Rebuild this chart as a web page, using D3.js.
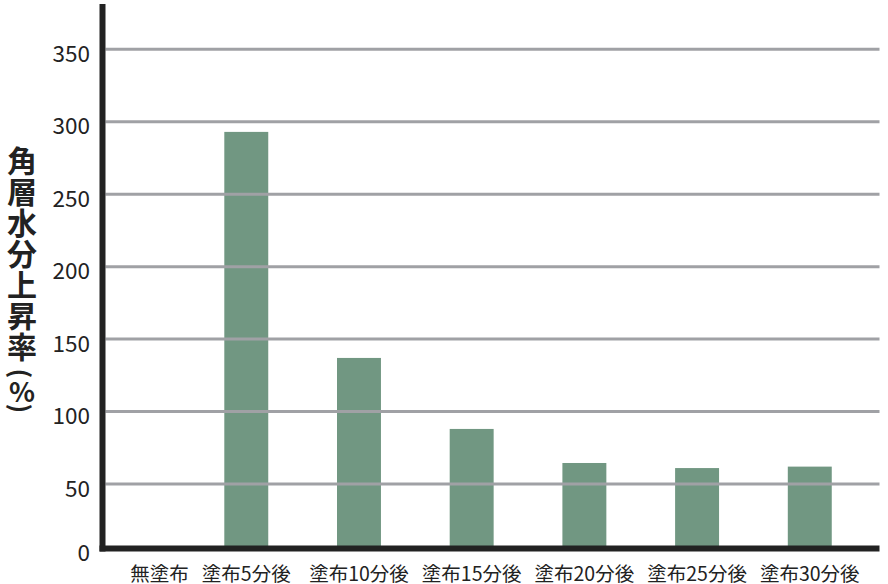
<!DOCTYPE html>
<html>
<head>
<meta charset="utf-8">
<script src="https://cdn.jsdelivr.net/npm/d3@7/dist/d3.min.js"></script>
<style>
  html, body { margin: 0; padding: 0; background: #fff; }
  svg { display: block; }
  text { font-family: "Noto Sans CJK JP", "Noto Sans", sans-serif; }
</style>
</head>
<body>
<svg id="chart" width="888" height="584"></svg>
<script>
// ---- data ----
const categories = ["無塗布", "塗布5分後", "塗布10分後", "塗布15分後", "塗布20分後", "塗布25分後", "塗布30分後"];
const values = [0, 293, 137, 88, 64.5, 61, 62];
const yTicks = [0, 50, 100, 150, 200, 250, 300, 350];
const yTitle = "角層水分上昇率";
const yTitleUnit = ["(", "%", ")"];

// ---- layout ----
const axisX = 102.5;       // y-axis line centre
const baseY = 548.5;       // x-axis line centre
const plotRight = 879.5;
const barColor = "#719782";
const gridColor = "#a0a1a5";
const axisColor = "#222222";

const svg = d3.select("#chart");

const y = d3.scaleLinear().domain([0, 350]).range([556.45, 49.3]);
const step = 112.7;
const padInner = 0.61;
const x = d3.scaleBand()
  .domain(categories)
  .range([111.6, 111.6 + step * (categories.length - padInner)])
  .paddingInner(padInner)
  .paddingOuter(0);

// bars
svg.append("g").selectAll("rect")
  .data(categories.map((c, i) => ({ c, v: values[i] })))
  .join("rect")
  .attr("x", d => x(d.c))
  .attr("width", x.bandwidth())
  .attr("y", d => Math.min(y(d.v), baseY))
  .attr("height", d => Math.max(0, baseY - y(d.v)))
  .attr("fill", barColor);

// gridlines (drawn over bars)
svg.append("g").selectAll("line")
  .data(yTicks.filter(t => t > 0))
  .join("line")
  .attr("x1", axisX + 3)
  .attr("x2", plotRight)
  .attr("y1", d => y(d))
  .attr("y2", d => y(d))
  .attr("stroke", gridColor)
  .attr("stroke-width", 3);

// axes lines
svg.append("line")
  .attr("x1", axisX).attr("x2", axisX)
  .attr("y1", 4).attr("y2", baseY + 3)
  .attr("stroke", axisColor).attr("stroke-width", 6);
svg.append("line")
  .attr("x1", axisX - 3).attr("x2", plotRight)
  .attr("y1", baseY).attr("y2", baseY)
  .attr("stroke", axisColor).attr("stroke-width", 6);

// y tick labels
svg.append("g").selectAll("text")
  .data(yTicks)
  .join("text")
  .attr("x", 90)
  .attr("y", d => (d === 0 ? baseY : y(d)) + 2.5)
  .attr("text-anchor", "end")
  .attr("dominant-baseline", "central")
  .attr("font-size", 22.5)
  .attr("font-weight", 400)
  .attr("fill", axisColor)
  .text(d => d);

// x labels
svg.append("g").selectAll("text")
  .data(categories)
  .join("text")
  .attr("x", (d, i) => x(d) + x.bandwidth() / 2 + (i === 0 ? 26 : 0))
  .attr("y", 572)
  .attr("text-anchor", "middle")
  .attr("dominant-baseline", "central")
  .attr("font-size", 19.5)
  .attr("font-weight", 400)
  .attr("fill", axisColor)
  .text(d => d);

// y title (vertical)
const tg = svg.append("g").attr("fill", axisColor).attr("font-weight", 700);
tg.append("text")
  .attr("x", 22)
  .attr("y", 146)
  .attr("writing-mode", "vertical-rl")
  .attr("letter-spacing", 1)
  .attr("font-size", 30)
  .text(yTitle);
// unit: rotated parens + upright percent
const unitY = [373.5, 390, 408.5];
yTitleUnit.forEach((ch, i) => {
  const t = tg.append("text")
    .attr("text-anchor", "middle")
    .attr("dominant-baseline", "central")
    .text(ch);
  if (ch === "%") {
    t.attr("x", 22).attr("y", unitY[i]).attr("font-size", 27);
  } else {
    t.attr("font-size", 25)
     .attr("transform", `translate(22,${unitY[i]}) rotate(90)`);
  }
});
</script>
</body>
</html>
